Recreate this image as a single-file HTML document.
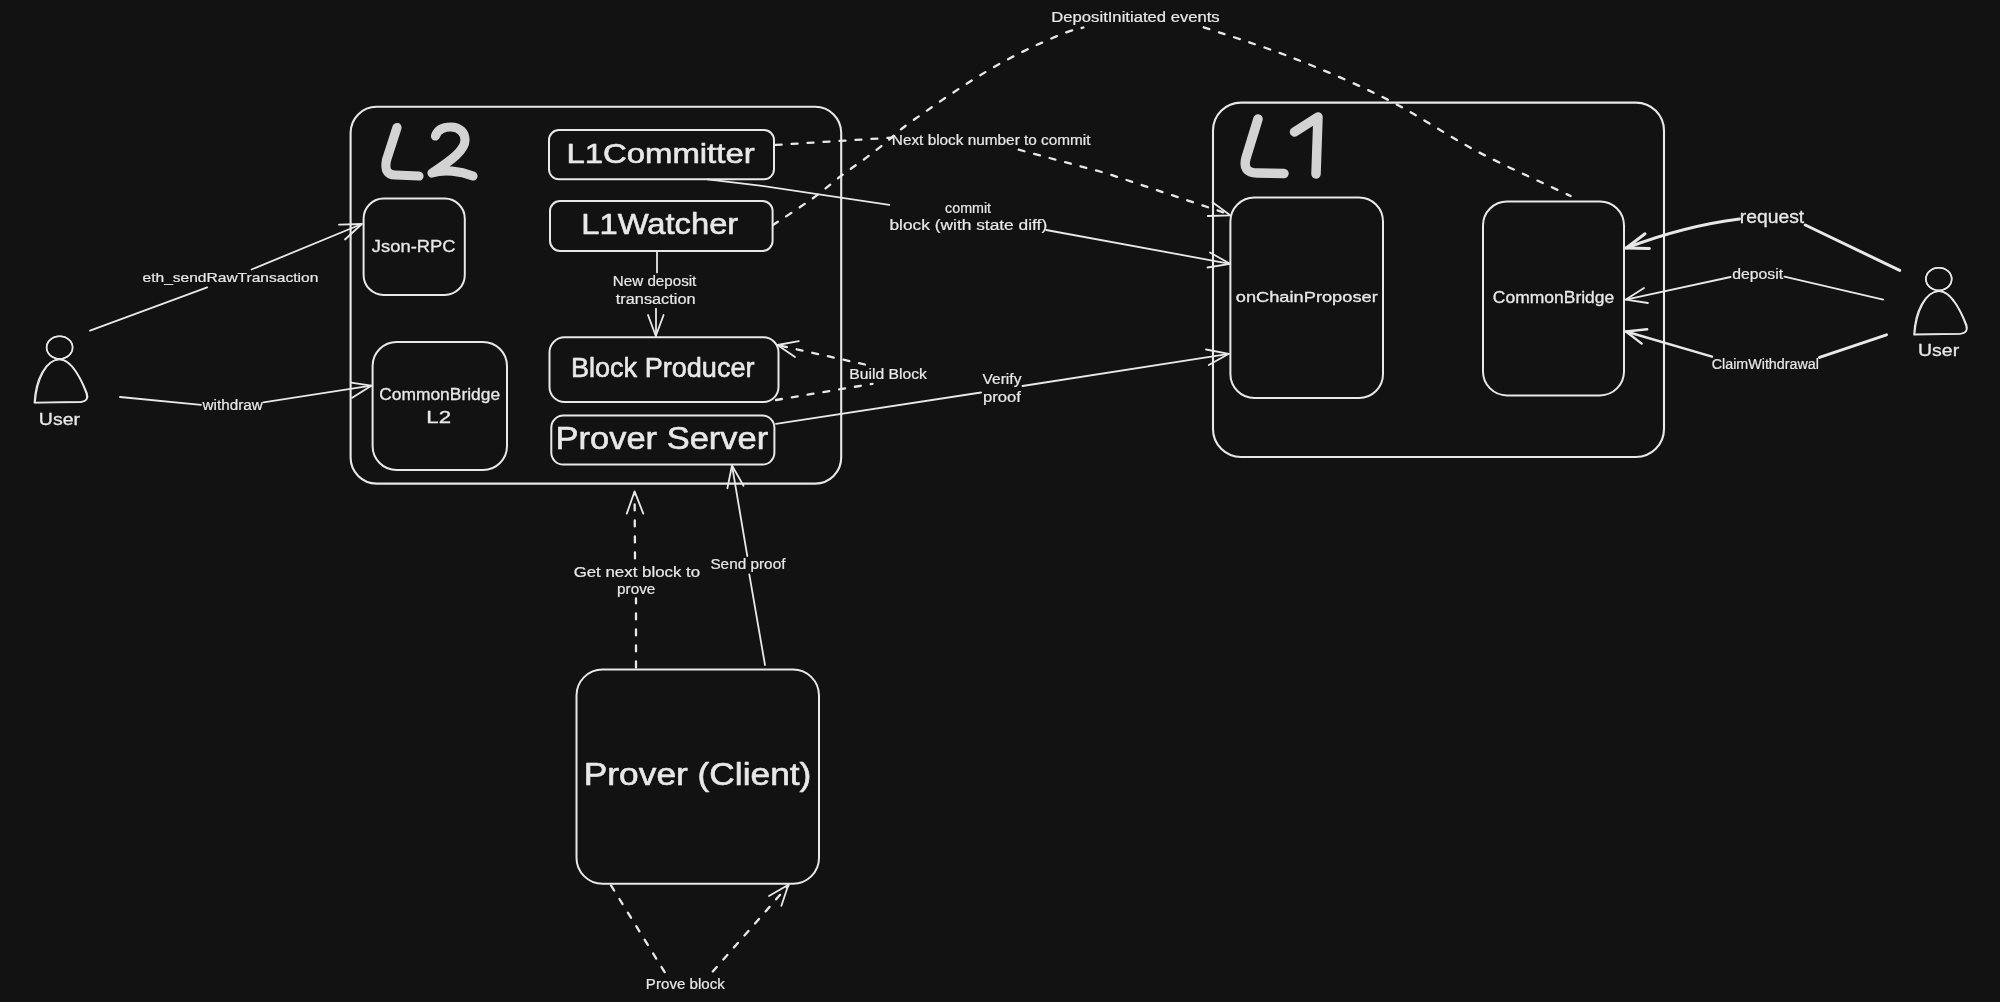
<!DOCTYPE html>
<html><head><meta charset="utf-8"><title>L2 architecture</title>
<style>
html,body{margin:0;padding:0;background:#121212;width:2000px;height:1002px;overflow:hidden}
svg{display:block;will-change:transform}
text{font-family:"Liberation Sans",sans-serif}
</style></head>
<body>
<svg width="2000" height="1002" viewBox="0 0 2000 1002">
<rect width="2000" height="1002" fill="#121212"/>
<rect x="350.6" y="106.8" width="490.6" height="376.8" rx="26" ry="26" fill="none" stroke="#e8e8e8" stroke-width="2.1"/>
<rect x="1213.0" y="102.6" width="451.0" height="354.4" rx="28" ry="28" fill="none" stroke="#e8e8e8" stroke-width="2.1"/>
<rect x="363.6" y="198.6" width="101.2" height="96.3" rx="20" ry="20" fill="none" stroke="#e8e8e8" stroke-width="2.0"/>
<rect x="372.6" y="342.0" width="134.4" height="128.0" rx="24" ry="24" fill="none" stroke="#e8e8e8" stroke-width="2.0"/>
<rect x="549.0" y="130.0" width="225.0" height="49.3" rx="10" ry="10" fill="none" stroke="#e8e8e8" stroke-width="2.0"/>
<rect x="550.0" y="201.0" width="222.6" height="50.0" rx="10" ry="10" fill="none" stroke="#e8e8e8" stroke-width="2.0"/>
<rect x="549.5" y="337.3" width="229.0" height="64.7" rx="15" ry="15" fill="none" stroke="#e8e8e8" stroke-width="2.0"/>
<rect x="551.3" y="415.6" width="223.1" height="49.0" rx="12" ry="12" fill="none" stroke="#e8e8e8" stroke-width="2.0"/>
<rect x="1230.4" y="197.4" width="152.6" height="200.6" rx="24" ry="24" fill="none" stroke="#e8e8e8" stroke-width="2.0"/>
<rect x="1483.0" y="201.5" width="141.0" height="193.9" rx="24" ry="24" fill="none" stroke="#e8e8e8" stroke-width="2.0"/>
<rect x="576.5" y="669.5" width="242.5" height="214.2" rx="26" ry="26" fill="none" stroke="#e8e8e8" stroke-width="2.0"/>
<path d="M90.0,330.6 L207.2,287.4" fill="none" stroke="#e8e8e8" stroke-width="1.8" stroke-linecap="round" stroke-linejoin="round"/>
<path d="M251.5,269.5 L361.8,224.0" fill="none" stroke="#e8e8e8" stroke-width="1.8" stroke-linecap="round" stroke-linejoin="round"/>
<path d="M339.0,224.7 L361.8,224.0 L345.0,239.5" fill="none" stroke="#e8e8e8" stroke-width="1.8" stroke-linecap="round" stroke-linejoin="round"/>
<path d="M120.0,397.0 L201.0,404.8" fill="none" stroke="#e8e8e8" stroke-width="1.8" stroke-linecap="round" stroke-linejoin="round"/>
<path d="M263.5,402.4 L371.3,385.7" fill="none" stroke="#e8e8e8" stroke-width="1.8" stroke-linecap="round" stroke-linejoin="round"/>
<path d="M351.0,382.6 L371.3,385.7 L352.2,397.7" fill="none" stroke="#e8e8e8" stroke-width="1.8" stroke-linecap="round" stroke-linejoin="round"/>
<path d="M775.6,144.9 L891.7,137.7" fill="none" stroke="#e8e8e8" stroke-width="2.3" stroke-linecap="round" stroke-linejoin="round" stroke-dasharray="6 10"/>
<path d="M1018.7,149.7 L1106.6,173.3 L1229.0,214.3" fill="none" stroke="#e8e8e8" stroke-width="2.3" stroke-linecap="round" stroke-linejoin="round" stroke-dasharray="6 10"/>
<path d="M1212.5,202.3 L1230.2,215.3 L1207.8,216.0" fill="none" stroke="#e8e8e8" stroke-width="1.8" stroke-linecap="round" stroke-linejoin="round"/>
<path d="M707.4,179.3 L760.0,185.6 L889.3,204.8" fill="none" stroke="#e8e8e8" stroke-width="1.8" stroke-linecap="round" stroke-linejoin="round"/>
<path d="M1046.2,230.0 L1230.0,263.8" fill="none" stroke="#e8e8e8" stroke-width="1.8" stroke-linecap="round" stroke-linejoin="round"/>
<path d="M1210.0,252.5 L1230.0,263.8 L1207.5,267.5" fill="none" stroke="#e8e8e8" stroke-width="1.8" stroke-linecap="round" stroke-linejoin="round"/>
<path d="M773.0,225.0 C779.7,220.5 801.9,206.1 813.2,198.0 C824.5,189.9 831.9,182.9 840.7,176.2 C849.5,169.5 858.4,163.6 866.0,157.9 C873.6,152.2 880.5,146.8 886.6,141.8 C892.7,136.8 896.1,133.1 902.7,128.0 C909.3,122.9 917.8,117.0 926.1,111.2 C934.4,105.4 943.6,98.9 952.4,93.1 C961.2,87.2 969.6,81.7 978.8,76.1 C987.9,70.5 997.8,64.7 1007.3,59.6 C1016.8,54.5 1026.2,49.9 1035.9,45.4 C1045.6,40.9 1057.6,35.7 1065.5,32.7 C1073.4,29.7 1080.4,28.4 1083.4,27.5" fill="none" stroke="#e8e8e8" stroke-width="2.3" stroke-linecap="round" stroke-linejoin="round" stroke-dasharray="6 10"/>
<path d="M1203.8,27.3 C1218.5,32.4 1261.4,45.6 1292.0,57.6 C1322.6,69.6 1356.4,83.8 1387.2,99.4 C1418.0,115.0 1446.2,135.1 1476.8,151.2 C1507.4,167.3 1555.0,188.5 1570.6,196.0" fill="none" stroke="#e8e8e8" stroke-width="2.3" stroke-linecap="round" stroke-linejoin="round" stroke-dasharray="6 10"/>
<path d="M657.0,251.0 L657.0,272.4" fill="none" stroke="#e8e8e8" stroke-width="1.8" stroke-linecap="round" stroke-linejoin="round"/>
<path d="M656.0,308.7 L656.0,336.0" fill="none" stroke="#e8e8e8" stroke-width="1.8" stroke-linecap="round" stroke-linejoin="round"/>
<path d="M648.0,315.0 L655.8,336.0 L663.6,315.0" fill="none" stroke="#e8e8e8" stroke-width="1.8" stroke-linecap="round" stroke-linejoin="round"/>
<path d="M776.0,400.0 L872.5,383.8" fill="none" stroke="#e8e8e8" stroke-width="2.3" stroke-linecap="round" stroke-linejoin="round" stroke-dasharray="6 10"/>
<path d="M865.0,364.5 L777.5,345.0" fill="none" stroke="#e8e8e8" stroke-width="2.3" stroke-linecap="round" stroke-linejoin="round" stroke-dasharray="6 10"/>
<path d="M798.8,341.2 L777.5,345.0 L795.0,357.0" fill="none" stroke="#e8e8e8" stroke-width="1.8" stroke-linecap="round" stroke-linejoin="round"/>
<path d="M776.0,423.8 L981.0,392.5" fill="none" stroke="#e8e8e8" stroke-width="1.8" stroke-linecap="round" stroke-linejoin="round"/>
<path d="M1022.5,386.0 L1228.8,353.8" fill="none" stroke="#e8e8e8" stroke-width="1.8" stroke-linecap="round" stroke-linejoin="round"/>
<path d="M1206.0,349.5 L1228.8,353.8 L1208.8,365.0" fill="none" stroke="#e8e8e8" stroke-width="1.8" stroke-linecap="round" stroke-linejoin="round"/>
<path d="M1899.7,270.4 L1805.3,225.0" fill="none" stroke="#e8e8e8" stroke-width="3" stroke-linecap="round" stroke-linejoin="round"/>
<path d="M1739.4,219 Q1684,226 1626.3,248" fill="none" stroke="#e8e8e8" stroke-width="3" stroke-linecap="round"/>
<path d="M1645.0,233.8 L1626.3,248.0 L1649.4,248.5" fill="none" stroke="#e8e8e8" stroke-width="3" stroke-linecap="round" stroke-linejoin="round"/>
<path d="M1883.2,299.6 L1784.4,276.6" fill="none" stroke="#e8e8e8" stroke-width="1.8" stroke-linecap="round" stroke-linejoin="round"/>
<path d="M1730.6,277.0 L1625.9,299.6" fill="none" stroke="#e8e8e8" stroke-width="1.8" stroke-linecap="round" stroke-linejoin="round"/>
<path d="M1644.0,288.0 L1625.9,299.6 L1647.9,303.0" fill="none" stroke="#e8e8e8" stroke-width="1.8" stroke-linecap="round" stroke-linejoin="round"/>
<path d="M1886.5,334.8 L1819.5,357.4" fill="none" stroke="#e8e8e8" stroke-width="3" stroke-linecap="round" stroke-linejoin="round"/>
<path d="M1712.0,356.7 L1626.0,331.5" fill="none" stroke="#e8e8e8" stroke-width="2.4" stroke-linecap="round" stroke-linejoin="round"/>
<path d="M1647.2,329.3 L1626.0,331.5 L1641.7,343.6" fill="none" stroke="#e8e8e8" stroke-width="2.4" stroke-linecap="round" stroke-linejoin="round"/>
<path d="M636.0,667.4 L636.0,598.5" fill="none" stroke="#e8e8e8" stroke-width="2.3" stroke-linecap="round" stroke-linejoin="round" stroke-dasharray="6 10"/>
<path d="M635.0,558.4 L634.6,493.0" fill="none" stroke="#e8e8e8" stroke-width="2.3" stroke-linecap="round" stroke-linejoin="round" stroke-dasharray="6 10"/>
<path d="M626.8,513.6 L634.6,491.4 L643.3,513.6" fill="none" stroke="#e8e8e8" stroke-width="1.8" stroke-linecap="round" stroke-linejoin="round"/>
<path d="M765.0,665.0 L749.3,574.4" fill="none" stroke="#e8e8e8" stroke-width="1.8" stroke-linecap="round" stroke-linejoin="round"/>
<path d="M747.3,556.0 L732.0,465.4" fill="none" stroke="#e8e8e8" stroke-width="1.8" stroke-linecap="round" stroke-linejoin="round"/>
<path d="M727.4,488.3 L732.0,465.4 L743.5,485.7" fill="none" stroke="#e8e8e8" stroke-width="1.8" stroke-linecap="round" stroke-linejoin="round"/>
<path d="M611.0,885.4 L665.4,973.3" fill="none" stroke="#e8e8e8" stroke-width="2.3" stroke-linecap="round" stroke-linejoin="round" stroke-dasharray="6 10"/>
<path d="M712.8,971.5 L788.4,885.4" fill="none" stroke="#e8e8e8" stroke-width="2.3" stroke-linecap="round" stroke-linejoin="round" stroke-dasharray="6 10"/>
<path d="M769.0,896.0 L788.4,884.7 L781.4,905.8" fill="none" stroke="#e8e8e8" stroke-width="1.8" stroke-linecap="round" stroke-linejoin="round"/>
<ellipse cx="59.5" cy="347.5" rx="13.0" ry="11.3" fill="none" stroke="#e8e8e8" stroke-width="1.5"/>
<ellipse cx="59.7" cy="347.6" rx="13.0" ry="11.3" fill="none" stroke="#e8e8e8" stroke-width="1.5"/>
<path d="M59.3,359.6 C45.3,359.6 35.3,379.6 34.3,402.9 L80.3,402.2 C86.3,401.6 87.8,398.6 86.3,393.6 C81.3,379.6 71.3,359.6 59.3,359.6 Z" fill="none" stroke="#e8e8e8" stroke-width="1.4" stroke-linejoin="round"/>
<path d="M60.1,359.2 C46.5,359.2 36.8,379.2 35.1,402.5 L81.1,401.8 C87.1,401.2 88.6,398.2 87.1,393.2 C81.4,379.2 71.7,359.2 60.1,359.2 Z" fill="none" stroke="#e8e8e8" stroke-width="1.4" stroke-linejoin="round"/>
<ellipse cx="1938.7" cy="279.0" rx="12.9" ry="11.3" fill="none" stroke="#e8e8e8" stroke-width="1.5"/>
<ellipse cx="1938.9" cy="279.1" rx="12.9" ry="11.3" fill="none" stroke="#e8e8e8" stroke-width="1.5"/>
<path d="M1938.9,291.4 C1924.9,291.4 1914.9,311.4 1913.9,334.7 L1959.9,334.0 C1965.9,333.4 1967.4,330.4 1965.9,325.4 C1960.9,311.4 1950.9,291.4 1938.9,291.4 Z" fill="none" stroke="#e8e8e8" stroke-width="1.4" stroke-linejoin="round"/>
<path d="M1939.7,291.0 C1926.1,291.0 1916.4,311.0 1914.7,334.3 L1960.7,333.6 C1966.7,333.0 1968.2,330.0 1966.7,325.0 C1961.0,311.0 1951.3,291.0 1939.7,291.0 Z" fill="none" stroke="#e8e8e8" stroke-width="1.4" stroke-linejoin="round"/>
<path d="M397,127.5 L386.5,160 Q383.5,175 395,175 L419,176" fill="none" stroke="#d3d3d3" stroke-width="9.2" stroke-linecap="round" stroke-linejoin="round"/>
<path d="M435.5,136 C438,128 446,127 451,127 C460,127 465,133 465,140 C465,150 452,160 432,173 C444,169 460,171 473,176" fill="none" stroke="#d3d3d3" stroke-width="9.2" stroke-linecap="round" stroke-linejoin="round"/>
<path d="M1258,119 L1246,158 Q1242,173 1257,173 L1284,173.5" fill="none" stroke="#d3d3d3" stroke-width="9.5" stroke-linecap="round" stroke-linejoin="round"/>
<path d="M1294.5,132 L1318,117 L1316,174" fill="none" stroke="#d3d3d3" stroke-width="9.5" stroke-linecap="round" stroke-linejoin="round"/>
<text x="566.40" y="163.00" font-size="28.00" textLength="188.24" lengthAdjust="spacingAndGlyphs" fill="#e8e8e8" stroke="#e8e8e8" stroke-width="0.6" stroke-linejoin="round">L1Committer</text>
<text x="581.24" y="234.00" font-size="29.50" textLength="157.00" lengthAdjust="spacingAndGlyphs" fill="#e8e8e8" stroke="#e8e8e8" stroke-width="0.6" stroke-linejoin="round">L1Watcher</text>
<text x="570.88" y="377.20" font-size="27.00" textLength="183.67" lengthAdjust="spacingAndGlyphs" fill="#e8e8e8" stroke="#e8e8e8" stroke-width="0.6" stroke-linejoin="round">Block Producer</text>
<text x="555.47" y="448.50" font-size="31.00" textLength="212.80" lengthAdjust="spacingAndGlyphs" fill="#e8e8e8" stroke="#e8e8e8" stroke-width="0.6" stroke-linejoin="round">Prover Server</text>
<text x="583.80" y="785.00" font-size="31.00" textLength="227.59" lengthAdjust="spacingAndGlyphs" fill="#e8e8e8" stroke="#e8e8e8" stroke-width="0.6" stroke-linejoin="round">Prover (Client)</text>
<text x="371.86" y="251.50" font-size="16.50" textLength="83.69" lengthAdjust="spacingAndGlyphs" fill="#e8e8e8" stroke="#e8e8e8" stroke-width="0.3" stroke-linejoin="round">Json-RPC</text>
<text x="379.17" y="399.70" font-size="16.00" textLength="120.96" lengthAdjust="spacingAndGlyphs" fill="#e8e8e8" stroke="#e8e8e8" stroke-width="0.3" stroke-linejoin="round">CommonBridge</text>
<text x="426.33" y="422.60" font-size="16.00" textLength="24.63" lengthAdjust="spacingAndGlyphs" fill="#e8e8e8" stroke="#e8e8e8" stroke-width="0.3" stroke-linejoin="round">L2</text>
<text x="1235.78" y="302.00" font-size="15.00" textLength="141.97" lengthAdjust="spacingAndGlyphs" fill="#e8e8e8" stroke="#e8e8e8" stroke-width="0.3" stroke-linejoin="round">onChainProposer</text>
<text x="1492.86" y="303.20" font-size="16.00" textLength="121.36" lengthAdjust="spacingAndGlyphs" fill="#e8e8e8" stroke="#e8e8e8" stroke-width="0.3" stroke-linejoin="round">CommonBridge</text>
<text x="38.85" y="424.80" font-size="16.50" textLength="41.13" lengthAdjust="spacingAndGlyphs" fill="#e8e8e8" stroke="#e8e8e8" stroke-width="0.3" stroke-linejoin="round">User</text>
<text x="1918.05" y="356.30" font-size="16.50" textLength="41.13" lengthAdjust="spacingAndGlyphs" fill="#e8e8e8" stroke="#e8e8e8" stroke-width="0.3" stroke-linejoin="round">User</text>
<text x="142.54" y="282.30" font-size="13.40" textLength="175.77" lengthAdjust="spacingAndGlyphs" fill="#e8e8e8" stroke="#e8e8e8" stroke-width="0.2" stroke-linejoin="round">eth_sendRawTransaction</text>
<text x="202.52" y="409.60" font-size="13.80" textLength="60.34" lengthAdjust="spacingAndGlyphs" fill="#e8e8e8" stroke="#e8e8e8" stroke-width="0.2" stroke-linejoin="round">withdraw</text>
<text x="612.86" y="286.40" font-size="13.80" textLength="83.46" lengthAdjust="spacingAndGlyphs" fill="#e8e8e8" stroke="#e8e8e8" stroke-width="0.2" stroke-linejoin="round">New deposit</text>
<text x="615.85" y="304.00" font-size="13.80" textLength="79.70" lengthAdjust="spacingAndGlyphs" fill="#e8e8e8" stroke="#e8e8e8" stroke-width="0.2" stroke-linejoin="round">transaction</text>
<text x="891.84" y="145.40" font-size="13.80" textLength="198.67" lengthAdjust="spacingAndGlyphs" fill="#e8e8e8" stroke="#e8e8e8" stroke-width="0.2" stroke-linejoin="round">Next block number to commit</text>
<text x="945.09" y="212.70" font-size="13.80" textLength="46.01" lengthAdjust="spacingAndGlyphs" fill="#e8e8e8" stroke="#e8e8e8" stroke-width="0.2" stroke-linejoin="round">commit</text>
<text x="889.48" y="230.40" font-size="13.80" textLength="157.69" lengthAdjust="spacingAndGlyphs" fill="#e8e8e8" stroke="#e8e8e8" stroke-width="0.2" stroke-linejoin="round">block (with state diff)</text>
<text x="1051.33" y="22.40" font-size="13.80" textLength="168.37" lengthAdjust="spacingAndGlyphs" fill="#e8e8e8" stroke="#e8e8e8" stroke-width="0.2" stroke-linejoin="round">DepositInitiated events</text>
<text x="849.31" y="379.00" font-size="13.80" textLength="77.56" lengthAdjust="spacingAndGlyphs" fill="#e8e8e8" stroke="#e8e8e8" stroke-width="0.2" stroke-linejoin="round">Build Block</text>
<text x="982.53" y="384.00" font-size="13.80" textLength="38.90" lengthAdjust="spacingAndGlyphs" fill="#e8e8e8" stroke="#e8e8e8" stroke-width="0.2" stroke-linejoin="round">Verify</text>
<text x="983.03" y="401.50" font-size="13.80" textLength="37.85" lengthAdjust="spacingAndGlyphs" fill="#e8e8e8" stroke="#e8e8e8" stroke-width="0.2" stroke-linejoin="round">proof</text>
<text x="1739.77" y="222.50" font-size="18.00" textLength="64.42" lengthAdjust="spacingAndGlyphs" fill="#e8e8e8" stroke="#e8e8e8" stroke-width="0.3" stroke-linejoin="round">request</text>
<text x="1732.24" y="278.60" font-size="13.80" textLength="50.88" lengthAdjust="spacingAndGlyphs" fill="#e8e8e8" stroke="#e8e8e8" stroke-width="0.2" stroke-linejoin="round">deposit</text>
<text x="1711.78" y="368.70" font-size="13.80" textLength="107.08" lengthAdjust="spacingAndGlyphs" fill="#e8e8e8" stroke="#e8e8e8" stroke-width="0.2" stroke-linejoin="round">ClaimWithdrawal</text>
<text x="573.65" y="576.70" font-size="13.80" textLength="126.46" lengthAdjust="spacingAndGlyphs" fill="#e8e8e8" stroke="#e8e8e8" stroke-width="0.2" stroke-linejoin="round">Get next block to</text>
<text x="617.11" y="594.00" font-size="13.80" textLength="38.27" lengthAdjust="spacingAndGlyphs" fill="#e8e8e8" stroke="#e8e8e8" stroke-width="0.2" stroke-linejoin="round">prove</text>
<text x="710.40" y="569.00" font-size="13.80" textLength="75.07" lengthAdjust="spacingAndGlyphs" fill="#e8e8e8" stroke="#e8e8e8" stroke-width="0.2" stroke-linejoin="round">Send proof</text>
<text x="645.86" y="989.00" font-size="13.80" textLength="79.02" lengthAdjust="spacingAndGlyphs" fill="#e8e8e8" stroke="#e8e8e8" stroke-width="0.2" stroke-linejoin="round">Prove block</text>
</svg>
</body></html>
